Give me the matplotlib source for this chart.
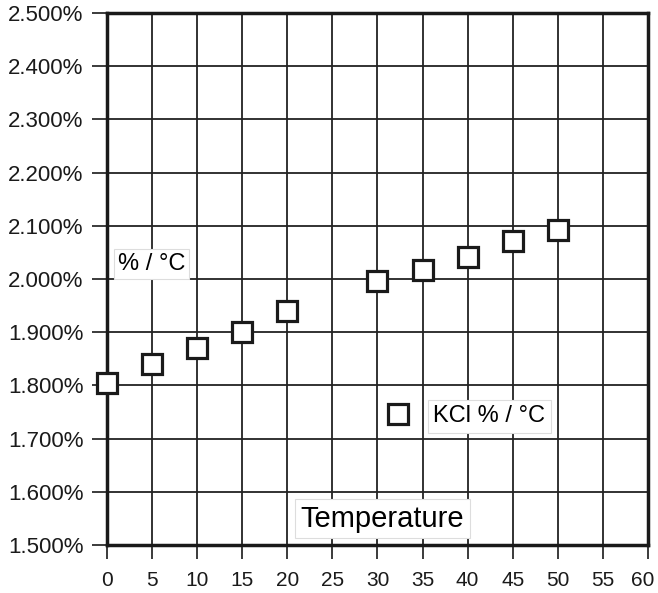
import matplotlib
matplotlib.use('Agg')
import matplotlib.pyplot as plt
from matplotlib.transforms import ScaledTranslation

plt.rcParams['font.family'] = ['Liberation Sans', 'DejaVu Sans']

# Temperature (deg C) and KCl temperature coefficient (% / deg C)
temps = [0, 5, 10, 15, 20, 30, 35, 40, 45, 50]
kcl_coef = [1.805, 1.840, 1.870, 1.900, 1.940, 1.996, 2.016, 2.041, 2.071, 2.092]

x_ticks = [0, 5, 10, 15, 20, 25, 30, 35, 40, 45, 50, 55, 60]
y_ticks = [1.5, 1.6, 1.7, 1.8, 1.9, 2.0, 2.1, 2.2, 2.3, 2.4, 2.5]
y_labels = ['1.500%', '1.600%', '1.700%', '1.800%', '1.900%', '2.000%',
            '2.100%', '2.200%', '2.300%', '2.400%', '2.500%']

fig = plt.figure(figsize=(6.58, 5.93), dpi=100)
ax = fig.add_axes([0.1626, 0.081, 0.8222, 0.8972])

ax.plot(temps, kcl_coef, linestyle='none', marker='s', markersize=15,
        markerfacecolor='white', markeredgecolor='#1a1a1a',
        markeredgewidth=2.3, label='KCl % / °C', zorder=5, clip_on=False)

ax.set_xlim(0, 60)
ax.set_ylim(1.5, 2.5)
ax.set_xticks(x_ticks)
ax.set_yticks(y_ticks)
ax.set_yticklabels(y_labels)

ax.grid(True, color='#222222', linewidth=1.3)
ax.set_axisbelow(True)
for sp in ax.spines.values():
    sp.set_linewidth(2.5)
    sp.set_color('#1a1a1a')

ax.tick_params(axis='y', length=11, width=1.2, pad=6, labelsize=16, colors='#1a1a1a')
ax.tick_params(axis='x', length=10, width=1.2, pad=9, labelsize=15, colors='#1a1a1a')

# nudge the last x label so it stays inside the figure
last = ax.get_xticklabels()[-1]
last.set_transform(last.get_transform() + ScaledTranslation(-4 / 72, 0, fig.dpi_scale_trans))

box = dict(facecolor='white', edgecolor='#dddddd', linewidth=0.8, pad=3)
ax.text(1.2, 2.017, '% / °C', fontsize=17, ha='left', va='baseline',
        bbox=box, zorder=6)
ax.text(30.55, 1.534, 'Temperature', fontsize=21, ha='center', va='baseline',
        bbox=dict(facecolor='white', edgecolor='#dddddd', linewidth=0.8, pad=4),
        zorder=6)

leg = ax.legend(loc='center', bbox_to_anchor=(0.663, 0.242), frameon=False,
                fontsize=17, handletextpad=1.0, handlelength=1.0)
for t in leg.get_texts():
    t.set_bbox(dict(facecolor='white', edgecolor='#dddddd', linewidth=0.8, pad=4))

fig.savefig('out.png', dpi=100)
